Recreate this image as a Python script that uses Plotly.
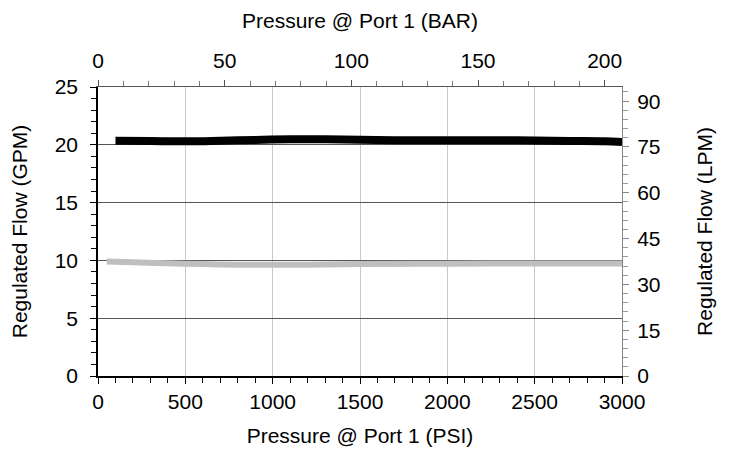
import plotly.graph_objects as go

# Data
psi_black = [100, 300, 500, 700, 900, 1100, 1300, 1500, 1700, 1900, 2100, 2300, 2500, 2700, 2900, 3000]
gpm_black = [20.35, 20.33, 20.30, 20.35, 20.42, 20.48, 20.48, 20.43, 20.40, 20.40, 20.40, 20.40, 20.37, 20.33, 20.30, 20.25]

psi_gray = [50, 200, 400, 600, 800, 1000, 1200, 1500, 2000, 2500, 3000]
gpm_gray = [9.90, 9.85, 9.75, 9.68, 9.63, 9.62, 9.63, 9.68, 9.72, 9.73, 9.73]

PSI_MAX = 3000
GPM_MAX = 25
PSI_PER_BAR = 14.5038
LPM_PER_GPM = 3.78541

font = "Liberation Sans, Arial, sans-serif"
fs = 21

fig = go.Figure()
fig.add_trace(go.Scatter(x=psi_gray, y=gpm_gray, mode="lines",
                         line=dict(color="#bfbfbf", width=6, shape="spline"),
                         showlegend=False, hoverinfo="skip"))
fig.add_trace(go.Scatter(x=psi_black, y=gpm_black, mode="lines",
                         line=dict(color="#000000", width=8, shape="spline"),
                         showlegend=False, hoverinfo="skip"))
# invisible trace to activate secondary axes
fig.add_trace(go.Scatter(x=[0, PSI_MAX / PSI_PER_BAR], y=[0, GPM_MAX * LPM_PER_GPM],
                         xaxis="x2", yaxis="y2", mode="markers",
                         marker=dict(opacity=0), showlegend=False, hoverinfo="skip"))

fig.update_layout(
    width=725, height=442,
    margin=dict(l=90, r=111, t=79, b=74, autoexpand=False),
    paper_bgcolor="white", plot_bgcolor="white",
    font=dict(family=font, size=fs, color="#000"),
    xaxis=dict(range=[0, PSI_MAX], tickmode="linear", tick0=0, dtick=500,
               showgrid=True, gridcolor="#c8c8c8", gridwidth=1,
               showline=True, linecolor="#000", linewidth=1.5,
               ticks="outside", ticklen=6, tickcolor="#000",
               minor=dict(dtick=100, ticks="outside", ticklen=5, tickcolor="#000", showgrid=False),
               zeroline=False, automargin=False,
               title=dict(text="Pressure @ Port 1 (PSI)", font=dict(size=fs), standoff=16),
               tickfont=dict(size=fs)),
    xaxis2=dict(range=[0, PSI_MAX / PSI_PER_BAR], overlaying="x", side="top",
                tickmode="linear", tick0=0, dtick=50,
                showgrid=False, showline=True, linecolor="#555", linewidth=1,
                ticks="outside", ticklen=6, tickcolor="#555",
                minor=dict(dtick=10, ticks="outside", ticklen=5, tickcolor="#777"),
                zeroline=False, automargin=False, ticklabelstandoff=4,
                title=dict(text="Pressure @ Port 1 (BAR)", font=dict(size=fs), standoff=14),
                tickfont=dict(size=fs)),
    yaxis=dict(range=[0, GPM_MAX], tickmode="linear", tick0=0, dtick=5,
               showgrid=True, gridcolor="#555555", gridwidth=1,
               showline=True, linecolor="#000", linewidth=1.5,
               ticks="outside", ticklen=6, tickcolor="#000",
               minor=dict(dtick=1, ticks="outside", ticklen=5, tickcolor="#000", showgrid=False),
               zeroline=False, automargin=False, ticklabelstandoff=8,
               title=dict(text="Regulated Flow (GPM)", font=dict(size=fs), standoff=21),
               tickfont=dict(size=fs)),
    yaxis2=dict(range=[0, GPM_MAX * LPM_PER_GPM], overlaying="y", side="right",
                tickmode="linear", tick0=0, dtick=15,
                showgrid=False, showline=True, linecolor="#888", linewidth=1,
                ticks="outside", ticklen=6, tickcolor="#888",
                minor=dict(dtick=3, ticks="outside", ticklen=5, tickcolor="#999"),
                zeroline=False, automargin=False, ticklabelstandoff=4,
                title=dict(text="Regulated Flow (LPM)", font=dict(size=fs), standoff=37),
                tickfont=dict(size=fs)),
)

fig.write_html("out.html")
